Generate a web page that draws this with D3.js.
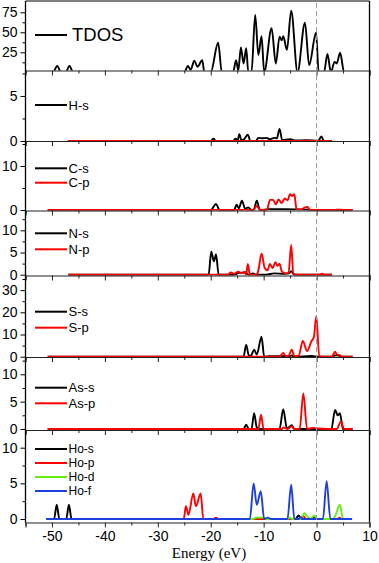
<!DOCTYPE html>
<html>
<head>
<meta charset="utf-8">
<script src="https://cdn.jsdelivr.net/npm/d3@7"></script>
<style>
html,body{margin:0;padding:0;background:#fff;}
svg{display:block;}
</style>
</head>
<body>
<svg id="chart" width="379" height="563"></svg>
<script>
// ---------- DATA (energy eV, DOS) ----------
const energyTicks = [-50, -40, -30, -20, -10, 0, 10];
const energyMinor = [-55, -45, -35, -25, -15, -5, 5];

const tdos = [[-51,0],[-49.8,0],[-49.0,8],[-48.3,0],[-47.4,0],[-46.7,8],[-46.0,0],
  [-25.0,0],[-24.3,8],[-23.8,3],[-23.1,14.5],[-22.5,7],[-21.6,15],[-21.2,0],
  [-20.0,0],[-18.6,37],[-17.9,0],
  [-15.8,0],[-15.2,15],[-14.8,2],[-14.3,31],[-13.8,11],[-13.3,30],[-12.9,0],
  [-12.3,0],[-11.6,71.6],[-11.0,21.6],[-10.4,45],[-9.9,0],[-8.5,55],[-7.7,11],
  [-7.0,44.5],[-6.6,40],[-6.3,45],[-5.6,28],[-4.8,77],[-3.6,0],[-2.2,62],[-1.4,9],
  [-0.1,49.5],[0.4,0],[1.4,0],[2.05,23],[2.7,0],[3.4,13],[3.8,11],[4.45,24.5],[5.2,0],[6.8,0]];

const hS = [[-47,0],[-20,0],[-19.5,0.25],[-19,0],[-15.8,0],[-15.3,0.25],[-14.9,0.1],[-14.6,0.75],
  [-14.2,0.1],[-13.8,0.15],[-13.0,0.7],[-12.5,0],[-11.5,0],[-11.0,0.35],[-10.2,0.3],[-9.4,0.35],
  [-8.9,0.2],[-8.0,0.35],[-7.5,0.3],[-7.0,1.35],[-6.5,0.1],[-5.0,0.2],[-4.0,0.05],[-2.0,0.1],
  [0.3,0],[0.9,0.5],[1.4,0],[2.9,0]];
const hP = [[-47,0],[2.9,0]];

const cS = [[-50.8,0],[-20,0],[-19.0,1.35],[-18.3,0],[-15.6,0],[-15.1,1.2],[-14.7,0.4],[-14.1,2.1],
  [-13.5,0.3],[-12.9,0.6],[-12.3,0],[-11.9,0],[-11.3,2.1],[-10.7,0],[-9.0,0.2],[-6,0.2],
  [-3.5,0.15],[-2,0.1],[-1,0],[6.8,0]];
const cP = [[-50.8,0],[-12,0],[-11.3,0.9],[-10.7,0],[-9.4,0],[-8.8,2.3],[-8.2,2.3],[-7.7,1.3],
  [-7.2,2.4],[-6.6,1.6],[-6.0,2.6],[-5.5,2.2],[-5.0,3.6],[-4.6,3.2],[-4.2,3.6],[-3.8,0.2],
  [-3.0,0.1],[-2.2,0.6],[-1.7,0.7],[-1.2,0],[3.4,0],[4.2,0.1],[5.0,0],[6.8,0]];

const nS = [[-46.9,0],[-20.4,0],[-19.9,5.2],[-19.4,3.0],[-19.0,4.6],[-18.5,0],[-15.5,0],[-14.7,0.4],
  [-13.5,0.5],[-12.8,0],[-12.0,0.3],[-11.5,0],[-9.5,0],[-8.0,0.3],[-6.0,0.2],[-5.2,0.3],
  [-4.8,0.8],[-4.2,0],[2.9,0]];
const nP = [[-46.9,0],[-16.8,0],[-16.2,0.5],[-15.6,0.2],[-14.8,0.7],[-14.2,0.3],[-13.6,0.6],[-13.3,0],
  [-13.0,2.4],[-12.6,0],[-11.3,0],[-11.0,1.0],[-10.4,4.8],[-9.8,1.5],[-9.3,1.0],[-8.8,2.4],
  [-8.3,1.5],[-7.8,2.8],[-7.4,2.0],[-7.0,2.5],[-6.6,0.8],[-5.8,0.3],[-5.3,0.4],[-4.8,6.7],
  [-4.4,0.3],[-3.8,0],[0.6,0],[1.0,0.2],[1.5,0],[2.9,0]];

const sS = [[-50.8,0],[-13.8,0],[-13.3,5.4],[-12.8,0.5],[-12.4,0.5],[-11.8,3.2],[-11.3,1.0],
  [-10.4,9.0],[-9.9,0],[-9,0.2],[-5,0.3],[-4.7,0.6],[-4.2,0],[-1,0.3],[0.5,0],[3.0,0],
  [3.5,0.6],[4.2,0.5],[4.8,0],[6.8,0]];
const sP = [[-50.8,0],[-7,0],[-6.3,1.7],[-5.8,0.2],[-5.3,0.3],[-4.7,3.2],[-4.2,0.3],[-3.4,0.4],
  [-2.6,7.1],[-1.8,2.5],[-1.0,6.8],[-0.5,9],[-0.05,18.2],[0.5,0.2],[1.5,0],[2.9,0],[3.5,2.2],
  [3.9,0.8],[4.3,0.8],[4.8,0],[6.8,0]];

const asS = [[-50.8,0],[-13.8,0],[-13.3,0.8],[-12.8,0],[-12.3,0],[-11.8,2.9],[-11.3,0.3],[-10.8,0],
  [-7,0],[-6.3,3.6],[-5.6,0.1],[-4.7,0.7],[-4.2,0],[2.8,0],[3.5,3.5],[4.0,2.5],[4.4,2.9],
  [5.0,0],[6.8,0]];
const asP = [[-50.8,0],[-11,0],[-10.5,2.6],[-10.0,0],[-6.5,0],[-6.3,0.3],[-5.5,0],[-4.7,0.5],
  [-4.2,0],[-3.2,0],[-2.5,6.5],[-1.8,0],[-0.8,0.2],[0.2,0.1],[3.8,0],[4.6,1.35],[5.2,0],[6.8,0]];

const hoS = [[-51.1,0],[-49.6,0],[-49.1,2.0],[-48.6,0],[-47.3,0],[-46.8,2.0],[-46.3,0],[-4,0],
  [-3.4,0.5],[-3,0],[-1,0],[-0.5,0.2],[0,0],[6.7,0]];
const hoP = [[-51.1,0],[-25.1,0],[-24.7,1.8],[-24.2,0.6],[-23.3,3.6],[-22.8,1.8],[-21.9,3.6],
  [-21.4,0],[-19.5,0],[-19.0,0.2],[-18.5,0],[-3,0],[-2.5,0.4],[-2,0],[4,0],[4.3,0.2],[4.7,0],[6.7,0]];
const hoD = [[-51.1,0],[-12,0],[-11.4,0.2],[-10,0.2],[-9.6,0],[-5.5,0],[-5.1,0.2],[-4.6,0],
  [-3.0,0],[-2.3,0.8],[-1.8,0.4],[-1.2,0],[-0.4,0.5],[0.1,0],[3.0,0],[3.5,0.4],[4.4,2.0],
  [5.0,0],[6.7,0]];
const hoF = [[-51.1,0],[-12.6,0],[-11.9,5.0],[-11.3,2.0],[-10.55,3.9],[-9.9,0],[-9.2,0.2],[-8.6,0],
  [-5.5,0],[-4.8,4.8],[-4.2,0],[-3.3,0],[-3.0,0.3],[-2.6,0],[1.2,0],[1.9,5.3],[2.6,0],[6.7,0]];

const yTicksTDOS = [25, 50, 75];
const yTicksH = [0, 5];
const yTicksC = [0, 10];
const yTicksN = [0, 5, 10];
const yTicksS = [0, 10, 20, 30];
const yTicksAs = [0, 5, 10];
const yTicksHo = [0, 5, 10];

const xLabel = "Energy (eV)";

// ---------- LAYOUT ----------
const COL = {black:"#000000", red:"#ff0000", green:"#66ee11", blue:"#1f3fdc"};
const L = 25.5, R = 369.5;
const x = d3.scaleLinear().domain([-55, 10]).range([L, R]);

const panels = [
  {top:1, bottom:70.5, domain:[2.25, 89.1], ticks:yTicksTDOS, minor:[12.5,37.5,62.5],
   series:[{d:tdos,c:COL.black,name:"TDOS"}], legendY:[35], big:true},
  {top:70.5, bottom:141, domain:[0, 7.83], ticks:yTicksH, minor:[2.5,7.5],
   series:[{d:hS,c:COL.black,name:"H-s"},{d:hP,c:COL.red}], legendY:[105]},
  {top:141, bottom:210.5, domain:[-0.11, 15.68], ticks:yTicksC, minor:[5,15],
   series:[{d:cS,c:COL.black,name:"C-s"},{d:cP,c:COL.red,name:"C-p"}], legendY:[168.3,182.7]},
  {top:210.5, bottom:275.5, domain:[-0.18, 14.46], ticks:yTicksN, minor:[2.5,7.5,12.5],
   series:[{d:nS,c:COL.black,name:"N-s"},{d:nP,c:COL.red,name:"N-p"}], legendY:[233.3,249.3]},
  {top:275.5, bottom:357, domain:[-0.14, 36.6], ticks:yTicksS, minor:[5,15,25,35],
   series:[{d:sS,c:COL.black,name:"S-s"},{d:sP,c:COL.red,name:"S-p"}], legendY:[311.7,327.7]},
  {top:357, bottom:430, domain:[-0.18, 13.16], ticks:yTicksAs, minor:[2.5,7.5,12.5],
   series:[{d:asS,c:COL.black,name:"As-s"},{d:asP,c:COL.red,name:"As-p"}], legendY:[387.7,403.3]},
  {top:430, bottom:522.5, domain:[-0.49, 12.48], ticks:yTicksHo, minor:[2.5,7.5,12.5],
   series:[{d:hoS,c:COL.black,name:"Ho-s"},{d:hoP,c:COL.red,name:"Ho-p"},{d:hoD,c:COL.green,name:"Ho-d"},{d:hoF,c:COL.blue,name:"Ho-f"}],
   legendY:[449,463,477,491], small:true}
];

const svg = d3.select("#chart");
const defs = svg.append("defs");
const FONT = "'Liberation Sans', Arial, sans-serif";

panels.forEach((p, i) => {
  const y = d3.scaleLinear().domain(p.domain).range([p.bottom, p.top]);
  const g = svg.append("g");
  const cid = "clip" + i;
  defs.append("clipPath").attr("id", cid).append("rect")
    .attr("x", L).attr("y", p.top).attr("width", R - L).attr("height", p.bottom - p.top);

  const line = d3.line().x(d => x(d[0])).y(d => y(d[1])).curve(d3.curveMonotoneX);
  const lg = g.append("g").attr("clip-path", `url(#${cid})`);
  p.series.forEach(s => {
    lg.append("path").attr("d", line(s.d)).attr("fill", "none")
      .attr("stroke", s.c).attr("stroke-width", 1.9).attr("stroke-linejoin", "round");
  });

  // bottom axis (separator) with ticks pointing down
  const last = i === panels.length - 1;
  const ax = d3.axisBottom(x).tickValues(energyTicks).tickSize(5).tickPadding(4)
    .tickFormat(d => last ? (d < 0 ? "-" + Math.abs(d) : String(d)) : "");
  const axg = g.append("g").attr("transform", `translate(0,${p.bottom})`).call(ax);
  axg.select(".domain").attr("stroke", "#222").attr("stroke-width", 1.2);
  axg.selectAll(".tick line").attr("stroke", "#222").attr("stroke-width", 1);
  axg.selectAll(".tick text").attr("font-family", FONT).attr("font-size", 14).attr("fill", "#000");
  const axm = d3.axisBottom(x).tickValues(energyMinor.filter(v => v > -55.5)).tickSize(3).tickFormat("");
  const axmg = g.append("g").attr("transform", `translate(0,${p.bottom})`).call(axm);
  axmg.select(".domain").remove();
  axmg.selectAll(".tick line").attr("stroke", "#222");

  // left axis
  const ay = d3.axisLeft(y).tickValues(p.ticks).tickSize(5).tickPadding(3).tickFormat(d3.format("d"));
  const ayg = g.append("g").attr("transform", `translate(${L},0)`).call(ay);
  ayg.select(".domain").remove();
  ayg.selectAll(".tick line").attr("stroke", "#000");
  ayg.selectAll(".tick text").attr("font-family", FONT).attr("font-size", 14).attr("fill", "#000");
  const aym = d3.axisLeft(y).tickValues(p.minor.filter(v => v < p.domain[1])).tickSize(3).tickFormat("");
  const aymg = g.append("g").attr("transform", `translate(${L},0)`).call(aym);
  aymg.select(".domain").remove();
  aymg.selectAll(".tick line").attr("stroke", "#000");

  // legend
  p.series.filter(s => s.name).forEach((s, k) => {
    const ly = p.legendY[k];
    g.append("line").attr("x1", 35).attr("x2", 67).attr("y1", ly).attr("y2", ly)
      .attr("stroke", s.c).attr("stroke-width", 2);
    g.append("text").attr("x", p.big ? 72 : 68.5).attr("y", ly).attr("dy", "0.35em")
      .attr("font-family", FONT).attr("font-size", p.big ? 18.5 : (p.small ? 12 : 13)).attr("fill", "#000")
      .text(s.name);
  });
});

// frame
const yTop = panels[0].top, yBot = panels[panels.length - 1].bottom;
svg.append("line").attr("x1", L).attr("x2", L).attr("y1", yTop).attr("y2", yBot).attr("stroke", "#000").attr("stroke-width", 1.3);
svg.append("line").attr("x1", R).attr("x2", R).attr("y1", yTop).attr("y2", yBot).attr("stroke", "#000").attr("stroke-width", 1.3);
svg.append("line").attr("x1", L).attr("x2", R).attr("y1", yTop).attr("y2", yTop).attr("stroke", "#000").attr("stroke-width", 1.2);

// Fermi level
svg.append("line").attr("x1", x(0)).attr("x2", x(0)).attr("y1", yTop + 2).attr("y2", yBot - 2)
  .attr("stroke", "#999").attr("stroke-width", 1).attr("stroke-dasharray", "5,3");

// x title
svg.append("text").attr("x", 209).attr("y", 557.5).attr("text-anchor", "middle")
  .attr("font-family", "'Liberation Serif', 'Times New Roman', serif").attr("font-size", 15)
  .attr("fill", "#000").text(xLabel);
</script>
</body>
</html>
